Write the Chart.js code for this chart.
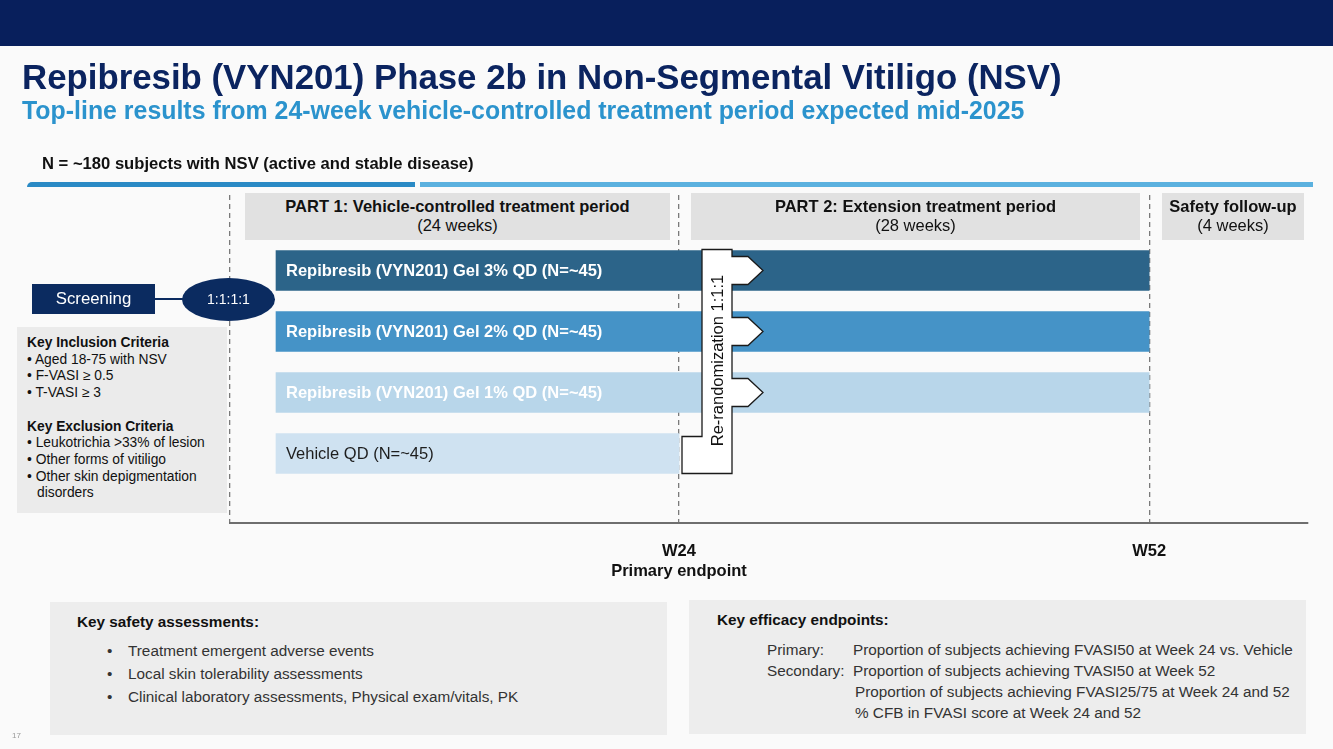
<!DOCTYPE html>
<html>
<head>
<meta charset="utf-8">
<script src="https://cdn.jsdelivr.net/npm/chart.js@4/dist/chart.umd.min.js"></script>
<style>
    body { margin: 0; background: #fafafa; font-family: "Liberation Sans", Arial, sans-serif; }
    #slide { position: relative; width: 1333px; height: 749px; overflow: hidden; }
    #slide canvas { position: absolute; left: 0; top: 0; }
    .abs { position: absolute; }
    .topbar { left: 0; top: 0; width: 1333px; height: 46px; background: #081f5c; }
    .title { left: 22px; top: 57px; font-size: 34.8px; font-weight: bold; color: #0b2460; white-space: nowrap; }
    .subtitle { left: 22px; top: 96px; font-size: 24.9px; font-weight: bold; color: #2b93cd; white-space: nowrap; }
    .nline { left: 42px; top: 154px; font-size: 16.6px; font-weight: bold; color: #111; }
    .rule1 { left: 27px; top: 182px; width: 388px; height: 5px; background: #2a8ac5; border-radius: 6px 0 0 0; }
    .rule2 { left: 420px; top: 182px; width: 893px; height: 5px; background: #5bb1df; }
    .phase { top: 193px; height: 47px; background: #e1e1e1; text-align: center; font-size: 16.5px; color: #111; line-height: 19px; box-sizing: border-box; padding-top: 4px; white-space: nowrap; }
    .phase b { display: block; }
    .screen { left: 32px; top: 284px; width: 123px; height: 30px; background: #0b2b60; color: #fff; font-size: 16.8px; text-align: center; line-height: 30px; }
    .link { left: 155px; top: 298px; width: 30px; height: 2px; background: #0b2b60; }
    .ratio { left: 182px; top: 278px; width: 93px; height: 43px; border-radius: 50%; background: #0b2b60; color: #fff; font-size: 14px; text-align: center; line-height: 43px; }
    .crit { left: 17px; top: 327px; width: 210px; height: 186px; background: #ebebeb; box-sizing: border-box; padding: 8px 0 0 10px; font-size: 13.8px; line-height: 16.7px; color: #111; }
    .crit .b { font-weight: bold; }
    .crit .i { padding-left: 10px; text-indent: -10px; }
    .box { background: #ededed; color: #333; font-size: 15.3px; }
    .box .h { position: absolute; font-weight: bold; color: #111; }
    .row { position: absolute; white-space: nowrap; }
    .pg { left: 12px; top: 731px; font-size: 8px; color: #999; }
</style>
</head>
<body>
<div id="slide">
    <canvas id="chart" width="1333" height="749"></canvas>

    <div class="abs topbar"></div>
    <div class="abs title">Repibresib (VYN201) Phase 2b in Non-Segmental Vitiligo (NSV)</div>
    <div class="abs subtitle">Top-line results from 24-week vehicle-controlled treatment period expected mid-2025</div>
    <div class="abs nline">N = ~180 subjects with NSV (active and stable disease)</div>
    <div class="abs rule1"></div>
    <div class="abs rule2"></div>

    <div class="abs phase" style="left:245px;width:425px"><b>PART 1: Vehicle-controlled treatment period</b>(24 weeks)</div>
    <div class="abs phase" style="left:691px;width:449px"><b>PART 2: Extension treatment period</b>(28 weeks)</div>
    <div class="abs phase" style="left:1162px;width:142px"><b>Safety follow-up</b>(4 weeks)</div>

    <div class="abs link"></div>
    <div class="abs screen">Screening</div>
    <div class="abs ratio">1:1:1:1</div>

    <div class="abs crit">
        <div class="b">Key Inclusion Criteria</div>
        <div class="i">• Aged 18-75 with NSV</div>
        <div class="i">• F-VASI ≥ 0.5</div>
        <div class="i">• T-VASI ≥ 3</div>
        <div>&nbsp;</div>
        <div class="b">Key Exclusion Criteria</div>
        <div class="i">• Leukotrichia &gt;33% of lesion</div>
        <div class="i">• Other forms of vitiligo</div>
        <div class="i">• Other skin depigmentation disorders</div>
    </div>

    <div class="abs box" style="left:50px;top:602px;width:617px;height:133px">
        <div class="h" style="left:27px;top:11px">Key safety assessments:</div>
        <div class="row" style="left:57px;top:40px">•</div><div class="row" style="left:78px;top:40px">Treatment emergent adverse events</div>
        <div class="row" style="left:57px;top:63px">•</div><div class="row" style="left:78px;top:63px">Local skin tolerability assessments</div>
        <div class="row" style="left:57px;top:86px">•</div><div class="row" style="left:78px;top:86px">Clinical laboratory assessments, Physical exam/vitals, PK</div>
    </div>

    <div class="abs box" style="left:689px;top:600px;width:617px;height:134px">
        <div class="h" style="left:28px;top:11px">Key efficacy endpoints:</div>
        <div class="row" style="left:78px;top:41px">Primary:</div><div class="row" style="left:164px;top:41px">Proportion of subjects achieving FVASI50 at Week 24 vs. Vehicle</div>
        <div class="row" style="left:78px;top:62px">Secondary:</div><div class="row" style="left:164px;top:62px">Proportion of subjects achieving TVASI50 at Week 52</div>
        <div class="row" style="left:166px;top:83px">Proportion of subjects achieving FVASI25/75 at Week 24 and 52</div>
        <div class="row" style="left:166px;top:104px">% CFB in FVASI score at Week 24 and 52</div>
    </div>

    <div class="abs pg">17</div>
</div>

<script>
// study arms, one row each (row 1 = top)
const armLabels = [
    'Repibresib (VYN201) Gel 3% QD (N=~45)',
    'Repibresib (VYN201) Gel 2% QD (N=~45)',
    'Repibresib (VYN201) Gel 1% QD (N=~45)',
    'Vehicle QD (N=~45)'
];
const armRows = [1, 2, 3, 4];
const startWeeks = [0, 0, 0, 0];
const endWeeks = [52, 52, 52, 24];
const armColors = ['#2c6489', '#4593c7', '#b8d6ea', '#cfe2f1'];
const labelColors = ['#ffffff', '#ffffff', '#ffffff', '#1e1e1e'];

// week axis
const axisMin = -2.74;
const axisMax = 61.46;
const tickWeeks = [24, 52];
const tickLabels = [['W24', 'Primary endpoint'], 'W52'];
const rerandText = 'Re-randomization 1:1:1';

const FONT = '"Liberation Sans", Arial, sans-serif';

const armLabelPlugin = {
    id: 'armLabels',
    afterDatasetsDraw(chart) {
        const ctx = chart.ctx;
        const bars = chart.getDatasetMeta(0).data;
        ctx.save();
        ctx.textBaseline = 'middle';
        bars.forEach((bar, i) => {
            const isVehicle = endWeeks[i] === 24;
            ctx.font = (isVehicle ? '' : 'bold ') + '16.5px ' + FONT;
            ctx.fillStyle = labelColors[i];
            ctx.fillText(armLabels[i], Math.min(bar.x, bar.base) + 10, bar.y + 1);
        });
        ctx.restore();
    }
};

// white bracket with arrows into each active arm after W24
const rerandPlugin = {
    id: 'rerand',
    afterDraw(chart) {
        const ctx = chart.ctx;
        const xs = chart.scales.x;
        const ys = chart.scales.y;
        const w24 = xs.getPixelForValue(24);
        const left = w24 + 23, right = w24 + 53, step = w24 + 3;
        const flat = w24 + 69, tip = w24 + 84;
        const cy = armRows.map(r => ys.getPixelForValue(r));
        const top = cy[0] - 21, bottom = cy[3] + 20, stepY = cy[3] - 17;

        ctx.save();
        ctx.beginPath();
        ctx.moveTo(left, top);
        ctx.lineTo(right, top);
        for (let i = 0; i < 3; i++) {
            ctx.lineTo(right, cy[i] - 14);
            ctx.lineTo(flat, cy[i] - 14);
            ctx.lineTo(tip, cy[i]);
            ctx.lineTo(flat, cy[i] + 14);
            ctx.lineTo(right, cy[i] + 14);
        }
        ctx.lineTo(right, bottom);
        ctx.lineTo(step, bottom);
        ctx.lineTo(step, stepY);
        ctx.lineTo(left, stepY);
        ctx.closePath();
        ctx.fillStyle = '#ffffff';
        ctx.fill();
        ctx.lineWidth = 1.3;
        ctx.strokeStyle = '#1a1a1a';
        ctx.stroke();

        ctx.translate((left + right) / 2 + 1, (top + bottom) / 2 - 1);
        ctx.rotate(-Math.PI / 2);
        ctx.font = '16.5px ' + FONT;
        ctx.fillStyle = '#111';
        ctx.textAlign = 'center';
        ctx.textBaseline = 'middle';
        ctx.fillText(rerandText, 0, 0);
        ctx.restore();
    }
};

new Chart(document.getElementById('chart'), {
    type: 'bar',
    data: {
        datasets: [{
            data: armRows.map((r, i) => ({ x: [startWeeks[i], endWeeks[i]], y: r })),
            backgroundColor: armColors,
            borderWidth: 0,
            barThickness: 40
        }]
    },
    options: {
        indexAxis: 'y',
        responsive: false,
        animation: false,
        layout: { padding: { left: 230, right: 25, top: 195, bottom: 166 } },
        plugins: {
            legend: { display: false },
            tooltip: { enabled: false }
        },
        scales: {
            x: {
                type: 'linear',
                min: axisMin,
                max: axisMax,
                z: 1,
                afterBuildTicks: scale => {
                    scale.ticks = [axisMin, ...tickWeeks].map(v => ({ value: v }));
                },
                afterFit: scale => { scale.height = 60; },
                ticks: {
                    autoSkip: false,
                    maxRotation: 0,
                    padding: 19,
                    color: '#111',
                    font: { family: FONT, size: 16.5, weight: 'bold', lineHeight: 1.2 },
                    callback: (value, index) => index === 0 ? '' : tickLabels[index - 1]
                },
                grid: {
                    color: '#7a7a7a',
                    lineWidth: 1.3,
                    drawTicks: false
                },
                border: { display: true, color: '#6e6e6e', width: 2, dash: [5, 4] }
            },
            y: {
                type: 'linear',
                reverse: true,
                offset: false,
                min: -0.238,
                max: 5.139,
                display: false
            }
        }
    },
    plugins: [armLabelPlugin, rerandPlugin]
});
</script>
</body>
</html>
